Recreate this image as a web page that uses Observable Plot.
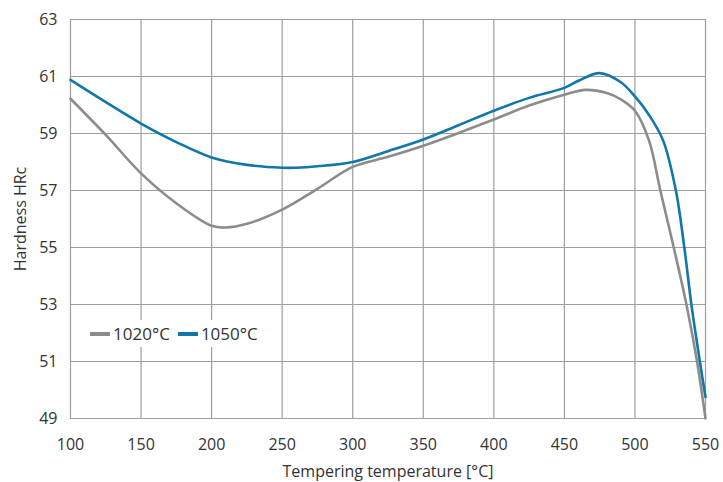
<!DOCTYPE html>
<html>
<head>
<meta charset="utf-8">
<script src="https://cdn.jsdelivr.net/npm/d3@7"></script>
<script src="https://cdn.jsdelivr.net/npm/@observablehq/plot@0.6"></script>
<style>
  html, body { margin: 0; padding: 0; background: #fff; }
  #wrap { position: relative; width: 723px; height: 482px; font-family: "Open Sans", sans-serif; }
  #legend { position: absolute; left: 86px; top: 320px; background: #fff; padding: 2px 4px; display: flex; align-items: center; font-size: 17px; color: #333; }
  #legend .sw { display: inline-block; width: 20px; height: 4px; margin-right: 3px; }
  #legend .item { display: flex; align-items: center; margin-right: 8px; }
</style>
</head>
<body>
<div id="wrap"><div id="legend"></div></div>
<script>
const temps1020 = [100,125,150,175,200,210,225,250,275,300,325,350,375,400,425,450,465,480,490,500,510,518,527.5,536.5,544,550];
const hrc1020   = [60.22,58.95,57.6,56.55,55.76,55.7,55.83,56.33,57.06,57.83,58.18,58.57,59.02,59.49,59.98,60.36,60.53,60.42,60.2,59.8,58.75,57.0,55.0,53.0,51.0,49.0];
const temps1050 = [100,125,150,175,200,225,250,260,275,300,325,350,375,400,425,450,460,475,490,500,510,520,529,535,540,546,550];
const hrc1050   = [60.88,60.1,59.35,58.7,58.16,57.9,57.8,57.8,57.85,58.0,58.38,58.79,59.29,59.8,60.25,60.6,60.85,61.12,60.8,60.3,59.65,58.75,57.0,55.0,53.0,51.0,49.75];
const seriesNames = ["1020°C", "1050°C"];
const seriesColors = ["#8c8c8c", "#1177a8"];
const xTicks = [100,150,200,250,300,350,400,450,500,550];
const yTicks = [49,51,53,55,57,59,61,63];

const data = [
  ...temps1020.map((t, i) => ({series: seriesNames[0], t, h: hrc1020[i]})),
  ...temps1050.map((t, i) => ({series: seriesNames[1], t, h: hrc1050[i]}))
];

const chart = Plot.plot({
  width: 723,
  height: 482,
  marginLeft: 70,
  marginRight: 18,
  marginTop: 19,
  marginBottom: 64,
  style: { fontFamily: "'Open Sans', sans-serif", fontSize: "16px", color: "#333", background: "#fff" },
  x: { domain: [100, 550], ticks: xTicks, label: "Tempering temperature [°C]", labelAnchor: "center", labelArrow: "none" },
  y: { domain: [49, 63], ticks: yTicks, label: "Hardness HRc", labelAnchor: "center", labelArrow: "none" },
  color: { domain: seriesNames, range: seriesColors },
  marks: [
    Plot.gridX(xTicks, { stroke: "#9e9e9e", strokeOpacity: 1, strokeWidth: 1.2 }),
    Plot.gridY(yTicks, { stroke: "#9e9e9e", strokeOpacity: 1, strokeWidth: 1.2 }),
    Plot.axisX(xTicks, { tickSize: 0, tickPadding: 20, fontSize: 16, label: "Tempering temperature [°C]", labelAnchor: "center", labelOffset: 58, labelArrow: "none" }),
    Plot.axisY(yTicks, { tickSize: 0, tickPadding: 13, fontSize: 16, label: "Hardness HRc", labelAnchor: "center", labelOffset: 56, labelArrow: "none" }),
    Plot.line(data, { x: "t", y: "h", z: "series", stroke: "series", strokeWidth: 2.6, curve: "catmull-rom" })
  ]
});
const wrap = document.getElementById("wrap");
wrap.insertBefore(chart, wrap.firstChild);

const legend = document.getElementById("legend");
seriesNames.forEach((n, i) => {
  const it = document.createElement("span");
  it.className = "item";
  it.innerHTML = `<span class="sw" style="background:${seriesColors[i]}"></span>${n}`;
  legend.appendChild(it);
});
</script>
</body>
</html>
